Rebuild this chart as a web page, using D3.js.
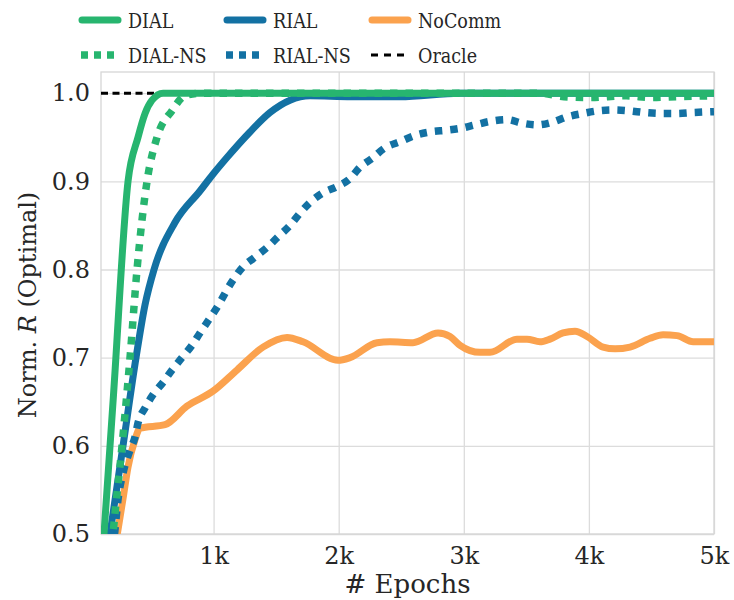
<!DOCTYPE html>
<html>
<head>
<meta charset="utf-8">
<script src="https://cdn.jsdelivr.net/npm/d3@7"></script>
<style>
body{margin:0;background:#fff}
text{font-family:"DejaVu Serif",serif;fill:#262626}
</style>
</head>
<body>
<div id="chart"></div>
<script>
var dialEpochs    = [100, 200, 316, 396, 452, 508, 596, 700, 1000, 2000, 3000, 4000, 5000]
var dialValues    = [0.45, 0.658, 0.9, 0.95, 0.977, 0.992, 1.0, 1.0, 1.0, 1.0, 1.0, 1.0, 1.0]

var dialNsEpochs  = [100, 196, 268, 332, 388, 468, 548, 667, 771, 900, 1000, 2000, 3000, 3600, 3800, 4000, 4300, 4500, 4700, 5000]
var dialNsValues  = [0.33, 0.5, 0.6, 0.7, 0.8, 0.9, 0.95, 0.98, 0.997, 1.0, 1.0, 1.0, 1.0, 1.0, 0.996, 0.995, 0.997, 0.995, 0.996, 0.997]

var rialEpochs    = [100, 172, 276, 380, 452, 524, 690, 891, 995, 1107, 1291, 1451, 1611, 1771, 2100, 2490, 2970, 3500, 4000, 4500, 5000]
var rialValues    = [0.43, 0.5, 0.6, 0.7, 0.76, 0.8, 0.853, 0.889, 0.908, 0.927, 0.956, 0.978, 0.992, 0.997, 0.996, 0.996, 1.0, 1.0, 1.0, 1.0, 1.0]

var rialNsEpochs  = [100, 212, 236, 276, 332, 372, 396, 452, 516, 596, 668, 747, 827, 891, 1027, 1155, 1235, 1331, 1427, 1515, 1611, 1691, 1771, 1875, 1986, 2090, 2170, 2266, 2370, 2490, 2610, 2730, 2866, 2970, 3090, 3210, 3345, 3465, 3585, 3705, 3825, 3953, 4073, 4193, 4321, 4449, 4585, 4705, 4825, 5000]
var rialNsValues  = [0.36, 0.505, 0.539, 0.569, 0.595, 0.61, 0.626, 0.643, 0.658, 0.672, 0.686, 0.70, 0.714, 0.728, 0.757, 0.788, 0.803, 0.814, 0.825, 0.837, 0.85, 0.864, 0.876, 0.887, 0.894, 0.903, 0.916, 0.926, 0.938, 0.945, 0.952, 0.956, 0.958, 0.96, 0.964, 0.968, 0.970, 0.966, 0.964, 0.967, 0.973, 0.977, 0.98, 0.981, 0.98, 0.978, 0.977, 0.977, 0.978, 0.979]

var noCommEpochs  = [100, 236, 276, 316, 372, 412, 612, 787, 995, 1187, 1395, 1587, 1715, 1994, 2090, 2306, 2410, 2594, 2794, 2890, 2970, 3130, 3210, 3425, 3505, 3609, 3689, 3793, 3889, 3985, 4113, 4209, 4329, 4489, 4593, 4705, 4833, 5000]
var noCommValues  = [0.39, 0.505, 0.54, 0.576, 0.607, 0.62, 0.624, 0.645, 0.662, 0.686, 0.712, 0.723, 0.718, 0.697, 0.70, 0.717, 0.718, 0.717, 0.728, 0.724, 0.714, 0.706, 0.706, 0.721, 0.721, 0.718, 0.721, 0.728, 0.730, 0.724, 0.712, 0.71, 0.712, 0.722, 0.726, 0.725, 0.718, 0.718]

var oracleEpochs  = [100, 5000]
var oracleValues  = [1.0, 1.0]

var xTicks      = [1000, 2000, 3000, 4000, 5000]
var xTickLabels = ['1k', '2k', '3k', '4k', '5k']
var yTicks      = [0.5, 0.6, 0.7, 0.8, 0.9, 1.0]

var green='#27b56f', blue='#1371a3', orange='#fba24e'

function Zip(ex, vals){
    return ex.map(function(e,i){return {e:e, v:vals[i]}})
}

// draw order: oracle underneath, DIAL on top
var series = [
    {name:'Oracle',  data:Zip(oracleEpochs, oracleValues),  color:'#000', width:3,   dash:'7,4.5'},
    {name:'NoComm',  data:Zip(noCommEpochs, noCommValues),  color:orange, width:7,   dash:null},
    {name:'RIAL-NS', data:Zip(rialNsEpochs, rialNsValues),  color:blue,   width:7.5, dash:'7.5,8'},
    {name:'RIAL',    data:Zip(rialEpochs, rialValues),      color:blue,   width:7,   dash:null},
    {name:'DIAL-NS', data:Zip(dialNsEpochs, dialNsValues),  color:green,  width:7.5, dash:'7.5,8'},
    {name:'DIAL',    data:Zip(dialEpochs, dialValues),      color:green,  width:7,   dash:null}
]

var legendCols = [['DIAL','DIAL-NS'], ['RIAL','RIAL-NS'], ['NoComm','Oracle']]

var W=734, H=600
var pLeft=101, pRight=714, pTop=72, pBottom=534

var svg=d3.select('#chart').append('svg')
    .attr('width', W)
    .attr('height', H)

var x=d3.scaleLinear().domain([100, 5000]).range([pLeft, pRight])
var y=d3.scaleLinear().domain([0.5, 1.024]).range([pBottom, pTop])

// grid
svg.append('g')
    .attr('class','xgrid')
    .attr('transform','translate(0,'+pBottom+')')
    .call(d3.axisBottom(x).tickValues(xTicks).tickSize(-(pBottom-pTop)).tickFormat(''))
svg.append('g')
    .attr('class','ygrid')
    .attr('transform','translate('+pLeft+',0)')
    .call(d3.axisLeft(y).tickValues(yTicks).tickSize(-(pRight-pLeft)).tickFormat(''))
svg.selectAll('.xgrid .domain, .ygrid .domain').remove()
svg.selectAll('.xgrid line, .ygrid line')
    .style('stroke','#dcdcdc')
    .style('stroke-width',1.3)

svg.append('rect')
    .attr('x',pLeft).attr('y',pTop)
    .attr('width',pRight-pLeft).attr('height',pBottom-pTop)
    .style('fill','none')
    .style('stroke','#d6d6d6')
    .style('stroke-width',1.3)

// tick labels
var xa=svg.append('g')
    .attr('transform','translate(0,'+pBottom+')')
    .call(d3.axisBottom(x).tickValues(xTicks).tickSize(0).tickPadding(13)
	  .tickFormat(function(d,i){return xTickLabels[i]}))
var ya=svg.append('g')
    .attr('transform','translate('+pLeft+',0)')
    .call(d3.axisLeft(y).tickValues(yTicks).tickSize(0).tickPadding(11).tickFormat(d3.format('.1f')))
xa.select('.domain').remove()
ya.select('.domain').remove()
svg.selectAll('.tick text')
    .style('font-family','"DejaVu Serif",serif')
    .style('font-size','24px')
    .style('fill','#262626')

// lines
svg.append('clipPath').attr('id','plotclip')
    .append('rect')
    .attr('x',pLeft).attr('y',pTop)
    .attr('width',pRight-pLeft).attr('height',pBottom-pTop)

var plot=svg.append('g').attr('clip-path','url(#plotclip)')
series.forEach(function(s){
    var line=d3.line()
	.x(function(d){return x(d.e)})
	.y(function(d){return y(d.v)})
	.curve(d3.curveMonotoneX)
    plot.append('path')
	.datum(s.data)
	.attr('d', line)
	.style('fill','none')
	.style('stroke', s.color)
	.style('stroke-width', s.width)
	.style('stroke-dasharray', s.dash)
	.style('stroke-linejoin','round')
})

// axis titles
svg.append('text')
    .attr('x', (pLeft+pRight)/2)
    .attr('y', 593)
    .attr('text-anchor','middle')
    .style('font-size','26px')
    .text('# Epochs')

var yl=svg.append('text')
    .attr('transform','translate(36,'+((pTop+pBottom)/2+2)+') rotate(-90)')
    .attr('text-anchor','middle')
    .style('font-size','24px')
yl.append('tspan').text('Norm. ')
yl.append('tspan').style('font-style','italic').text('R')
yl.append('tspan').text(' (Optimal)')

// legend
var colX=[80, 225, 370], rowY=[20, 55]
legendCols.forEach(function(col, ci){
    col.forEach(function(name, ri){
	var s=series.filter(function(d){return d.name==name})[0]
	var g=svg.append('g').attr('transform','translate('+colX[ci]+','+rowY[ri]+')')
	g.append('line')
	    .attr('x1', s.dash ? 1 : 2).attr('x2', 38)
	    .attr('y1', 0).attr('y2', 0)
	    .style('stroke', s.color)
	    .style('stroke-width', s.width)
	    .style('stroke-linecap', s.dash ? 'butt' : 'round')
	    .style('stroke-dasharray', s.dash ? '7,6' : null)
	g.append('text')
	    .attr('x', 48)
	    .attr('y', 8)
	    .style('font-family','"DejaVu Serif Condensed","DejaVu Serif",serif')
	    .style('font-stretch','condensed')
	    .style('font-size','19.5px')
	    .text(name)
    })
})
</script>
</body>
</html>
